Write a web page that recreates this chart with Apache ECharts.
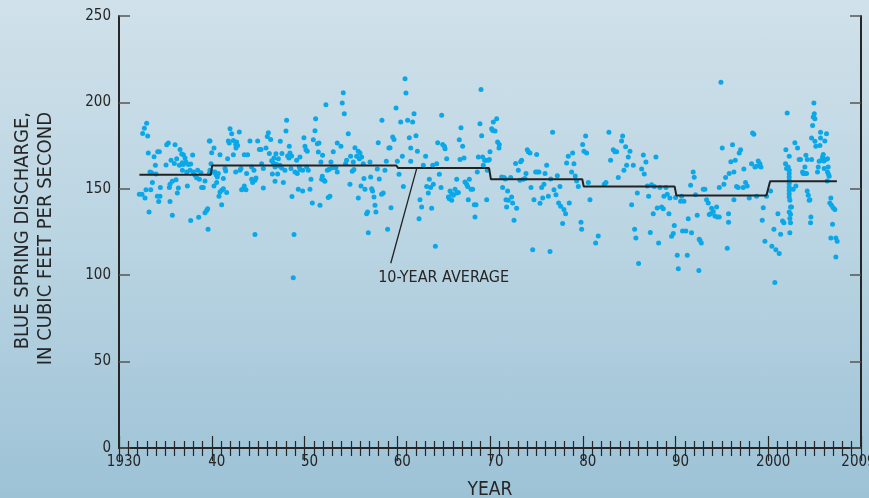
<!DOCTYPE html>
<html><head><meta charset="utf-8">
<script src="https://cdn.jsdelivr.net/npm/echarts@6/dist/echarts.min.js"></script>
<style>
html,body{margin:0;padding:0;width:869px;height:498px;overflow:hidden;background:linear-gradient(180deg,#d0e1ea 0%,#b9d4e2 50%,#9dc2d6 100%);}
#c{width:869px;height:498px;}
</style></head><body><div id="c"></div>
<script>
// ---- data (year, discharge ft3/s) ----
const d1930s=[[1932.98,188],[1932.73,185],[1932.55,182],[1933.09,180.5],[1933.16,170.7],[1933.78,168.6],[1933.92,163.6],[1934.17,171.5],[1934.35,171.5],[1933.34,159.7],[1933.52,159.3],[1933.99,158.6],[1933.6,153.6],[1932.91,149.5],[1933.42,149.5],[1932.19,146.8],[1932.48,146.8],[1932.8,144.7],[1934.13,145.7],[1934.42,145.7],[1934.28,142.6],[1934.46,150.7],[1933.24,136.6],[1935.14,175.5],[1935.32,176.5],[1936.04,175.5],[1935.07,163.8],[1935.61,166.5],[1935.97,164.7],[1936.22,167.4],[1936.58,172.8],[1936.76,170.1],[1936.94,169.7],[1937.12,167.8],[1936.83,165.1],[1936.51,163.6],[1936.94,164],[1937.22,165.5],[1937.48,164],[1937.73,164.3],[1937.94,169.6],[1936.83,160.7],[1937.3,159.7],[1937.66,160.7],[1938.02,159.7],[1938.2,157.8],[1938.37,156.4],[1938.48,160.7],[1938.84,159.3],[1938.66,155.5],[1938.91,150.7],[1939.09,150.7],[1939.27,154.5],[1939.74,158.8],[1939.74,177.6],[1935.5,152.6],[1935.43,150.7],[1935.75,154.3],[1936.15,155.3],[1936.4,150.5],[1936.29,147.6],[1935.5,142.6],[1935.75,134.7],[1937.73,131.6],[1938.59,133.5],[1939.27,136.2],[1939.45,137.4],[1939.56,138.5],[1939.6,126.6],[1937.37,151.6],[1939.81,177.6],[1939.99,170.9],[1939.92,164.5],[1939.81,160.7]];
const d1940s=[[1940.24,173.6],[1940.1,159.7],[1940.35,159.7],[1940.46,158.2],[1940.6,156.8],[1940.53,153.6],[1940.24,151.6],[1940.71,158.8],[1941.25,155.9],[1941.43,161.7],[1941.5,160.3],[1940.89,169.7],[1941.71,167.4],[1941.61,147.8],[1941.25,150.1],[1941.07,149.1],[1940.89,148.2],[1940.78,145.7],[1941.07,140.8],[1941.97,184.8],[1942.15,181.9],[1941.79,177.6],[1941.89,176.5],[1942.33,178],[1942.68,177.1],[1942.58,175.7],[1942.79,175.1],[1942.61,173.6],[1942.97,182.9],[1942.33,169.7],[1942.58,159.7],[1943.04,160.7],[1943.15,161.7],[1943.51,169.7],[1943.87,169.7],[1944.12,177.6],[1943.76,158.8],[1944.3,162.6],[1944.55,160.7],[1944.95,177.6],[1945.13,172.8],[1945.31,172.8],[1945.85,173.6],[1945.99,180.3],[1946.1,182.5],[1946.35,178.6],[1947.39,177.5],[1948.0,183.4],[1948.07,189.6],[1948.36,174.6],[1948.43,170.7],[1948.18,169],[1948.33,167.8],[1945.38,164.5],[1945.56,161.7],[1946.21,170.5],[1946.46,166.3],[1946.71,167.8],[1946.92,170.3],[1947.18,167.4],[1946.64,165.1],[1947.0,164],[1947.36,163.6],[1946.82,162.6],[1947.28,163.2],[1947.57,170.5],[1947.54,162],[1947.89,160.7],[1948.54,161.7],[1948.61,169],[1949.15,166.5],[1948.97,159.7],[1949.22,158.8],[1949.44,162.6],[1949.33,149.7],[1948.65,145.5],[1944.77,156.3],[1944.66,154.9],[1944.41,153.6],[1944.3,155.5],[1943.4,150.1],[1943.22,149.5],[1943.69,149.5],[1943.51,151.6],[1945.56,150.5],[1946.53,158.6],[1947.1,158.6],[1946.82,154.3],[1947.72,153.6],[1944.66,123.5],[1948.87,123.5],[1948.79,98.5],[1949.51,168.4],[1949.94,179.6],[1949.8,160.7],[1949.51,161.1],[1949.8,148.7]];
const d1950s=[[1950.05,174.6],[1950.16,172.6],[1950.3,171.7],[1950.23,162.6],[1950.41,160.7],[1950.7,155.5],[1950.59,149.7],[1950.84,141.8],[1950.95,178.4],[1951.13,183.6],[1951.2,190.6],[1951.38,176.1],[1951.56,176.5],[1951.49,171.3],[1951.95,169.4],[1951.77,165.5],[1951.92,157.2],[1952.1,154.9],[1952.2,154.3],[1951.85,155.5],[1951.67,140.5],[1952.56,144.9],[1952.74,145.7],[1952.31,198.7],[1952.46,160.7],[1952.85,165.5],[1952.67,161.3],[1953.0,162.2],[1953.21,162.6],[1953.39,162.2],[1953.1,171.5],[1953.53,159.7],[1953.53,176.5],[1953.93,174.6],[1954.43,164.5],[1954.54,166.5],[1954.97,168.8],[1954.72,181.9],[1954.29,193.5],[1954.07,199.6],[1954.18,205.6],[1954.9,152.6],[1955.15,160.1],[1955.33,161.1],[1955.26,165.5],[1955.44,173.8],[1955.62,168.8],[1955.8,171.7],[1955.98,170.7],[1956.16,168.4],[1955.91,167.4],[1956.34,164.5],[1957.06,165.5],[1956.41,155.9],[1956.09,151.6],[1955.8,144.7],[1956.52,149.7],[1957.24,150.1],[1957.34,148.7],[1957.49,145.3],[1957.13,156.8],[1958.06,155.7],[1957.85,161.5],[1957.95,176.7],[1958.35,189.6],[1959.1,173.6],[1958.82,165.9],[1958.67,160.7],[1958.31,146.8],[1958.49,147.6],[1957.6,140.5],[1957.7,136.6],[1956.8,136.6],[1956.7,135.6],[1956.88,124.5],[1958.96,126.6],[1959.33,139.1],[1959.51,180],[1959.65,178.6],[1959.22,173.8],[1959.87,196.7]];
const d1960s=[[1960.01,165.9],[1960.19,158.4],[1960.37,188.6],[1960.55,168.8],[1960.66,151.4],[1960.84,213.7],[1960.94,205.4],[1961.12,189.6],[1961.3,179.6],[1961.45,173.6],[1961.66,188.6],[1961.81,193.5],[1962.02,180.7],[1962.17,171.7],[1961.45,165.9],[1962.45,143.7],[1962.63,139.5],[1962.35,132.6],[1962.81,163.6],[1963.06,168.8],[1963.46,155.5],[1963.17,151.4],[1963.35,147.6],[1963.6,150.7],[1963.71,138.7],[1963.89,152.6],[1963.82,163.6],[1964.25,164.5],[1964.54,158.4],[1964.36,176.7],[1964.79,192.5],[1964.9,175.7],[1965.08,174.6],[1965.15,173.2],[1965.33,167.4],[1964.72,150.7],[1964.11,116.8],[1965.51,145.3],[1965.69,148.7],[1965.87,147.2],[1966.05,146.2],[1966.23,149.7],[1966.41,147.6],[1966.59,147.8],[1965.62,144.3],[1965.87,143.4],[1966.41,155.5],[1966.69,178.4],[1966.87,185.4],[1967.05,174.6],[1966.77,166.9],[1967.2,167.8],[1967.3,154],[1967.48,152.6],[1967.59,151.4],[1967.77,155.5],[1967.95,149.7],[1968.13,149.7],[1967.66,143.7],[1968.31,140.8],[1968.49,140.7],[1968.38,133.7],[1968.63,159.7],[1968.74,168.4],[1969.03,207.5],[1969.1,180.7],[1968.92,187.7],[1969.21,168.4],[1969.28,163.6],[1969.42,166.5],[1969.57,166.5],[1969.82,166.5],[1969.71,160.7],[1969.64,143.7],[1969.93,166.9]];
const d1970s=[[1970.0,171.5],[1970.18,184.8],[1970.29,183.8],[1970.54,183.4],[1970.36,188.6],[1970.72,190.6],[1970.82,177.1],[1971.0,175.7],[1970.97,173.6],[1971.26,156.8],[1971.51,156.5],[1971.65,155.7],[1971.36,150.7],[1971.72,143.7],[1971.97,143.4],[1972.23,156.5],[1971.79,139.5],[1972.33,145.3],[1972.44,141.8],[1972.87,138.7],[1972.59,131.8],[1971.9,148.7],[1972.76,164.7],[1973.05,160.7],[1973.3,165.7],[1973.41,166.5],[1973.23,154.9],[1973.59,155.5],[1973.77,155.9],[1973.88,158.8],[1974.02,172.6],[1974.13,171.5],[1974.31,170.7],[1975.03,169.8],[1974.42,150.7],[1974.74,143.7],[1974.92,159.7],[1975.1,159.7],[1975.28,159.7],[1975.39,141.6],[1975.68,144.7],[1975.82,152.6],[1975.57,150.7],[1975.93,158.8],[1976.11,163.6],[1976.29,145.7],[1976.54,155.7],[1976.75,182.7],[1976.9,149.5],[1977.11,146.6],[1977.26,157.6],[1977.54,151.4],[1977.4,141.8],[1977.62,139.9],[1977.83,129.9],[1977.97,138],[1978.15,135.6],[1978.26,164.9],[1978.44,168.8],[1978.55,141.8],[1974.6,114.8],[1976.47,113.7],[1978.91,170.7],[1979.05,164.5],[1978.8,159.7],[1979.19,157.4],[1979.34,154.5],[1979.52,151.4],[1979.99,175.7],[1979.88,126.6],[1979.81,130.6]];
const d1980s=[[1980.13,171.7],[1980.42,170.7],[1980.31,180.5],[1980.6,153.6],[1980.78,143.7],[1981.39,118.7],[1981.67,122.7],[1982.32,152.6],[1982.5,153.6],[1982.82,182.7],[1983.0,166.5],[1983.29,172.6],[1983.47,171.5],[1983.65,171.5],[1983.83,156.5],[1984.19,177.7],[1984.3,180.5],[1984.44,160.7],[1984.62,174.4],[1984.73,163.6],[1984.91,168.4],[1985.09,171.7],[1985.27,140.7],[1985.45,163.6],[1985.59,126.6],[1985.73,121.6],[1985.88,147.6],[1986.02,106.7],[1986.35,161.5],[1986.53,169.6],[1986.63,158.6],[1986.81,165.5],[1986.96,151.6],[1987.1,145.7],[1987.28,124.7],[1987.42,152.4],[1987.6,135.6],[1987.71,151.4],[1987.89,168.4],[1988.03,138.9],[1988.18,118.7],[1988.32,150.7],[1988.5,139.5],[1988.68,138.5],[1988.75,145.7],[1988.97,150.7],[1989.11,146.8],[1989.29,135.6],[1989.4,144.7],[1989.58,122.5],[1989.76,124.1],[1989.87,128.7]];
const d1990s=[[1990.01,144.9],[1990.19,111.6],[1990.3,103.7],[1990.55,142.8],[1990.66,145.7],[1990.91,142.8],[1990.76,125.6],[1991.12,125.6],[1991.27,111.6],[1991.37,132.6],[1991.63,152],[1991.73,124.5],[1991.91,159.7],[1992.02,156.7],[1992.16,146.6],[1992.34,134.7],[1992.52,102.7],[1992.63,120.2],[1992.78,118.7],[1992.56,120.8],[1992.99,149.7],[1993.17,149.7],[1993.35,143.7],[1993.53,141.8],[1993.64,135.1],[1993.78,135.6],[1993.89,138.7],[1994.07,136.8],[1994.25,134.3],[1994.43,139.5],[1994.5,133.7],[1994.72,133.7],[1994.72,150.7],[1994.9,211.6],[1995.04,173.6],[1995.22,152.6],[1995.4,156.5],[1995.58,115.6],[1995.72,130.6],[1995.72,135.6],[1995.79,158.8],[1995.97,165.7],[1996.15,175.5],[1996.3,143.7],[1996.3,159.7],[1996.44,166.5],[1996.58,151.4],[1996.76,150.7],[1996.87,170.7],[1997.02,172.6],[1997.3,150.7],[1997.37,161.5],[1997.55,153.6],[1997.73,151.6],[1997.95,144.7],[1998.2,164.5],[1998.31,182.3],[1998.45,181.5],[1998.56,162.6],[1998.74,163],[1998.92,166.1],[1999.1,164.5],[1999.21,162.6],[1998.74,145.7],[1999.46,139.1],[1999.35,131.8],[1999.64,119.7],[1999.82,145.7]];
const d2000s=[[2000.25,148.7],[2000.39,116.8],[2000.61,126.6],[2000.71,95.8],[2000.82,114.8],[2001.18,112.5],[2001.04,135.6],[2001.33,123.7],[2001.54,131.4],[2001.69,130.4],[2001.9,172.6],[2001.86,164.5],[2001.97,161.7],[2002.04,193.8],[2002.26,168.8],[2002.15,162.6],[2002.26,160.7],[2002.26,158.8],[2002.26,156.8],[2002.26,154.9],[2002.26,153],[2002.26,151.1],[2002.26,149.1],[2002.26,147.2],[2002.26,145.3],[2002.33,143.4],[2002.4,139.5],[2002.26,136.6],[2002.4,135.3],[2002.33,132.8],[2002.4,130.4],[2002.33,124.5],[2002.51,139.5],[2002.69,149.7],[2002.98,151.6],[2002.87,176.7],[2003.16,173.6],[2003.34,166.9],[2003.48,166.9],[2003.7,159.7],[2003.77,158.8],[2003.95,158.8],[2004.06,169.4],[2003.95,162.6],[2004.2,166.9],[2004.13,158.8],[2004.2,148.7],[2004.31,146.2],[2004.42,143.4],[2004.49,143.7],[2004.6,133.7],[2004.56,130.4],[2004.67,166.9],[2004.67,179.4],[2004.78,186.7],[2004.85,191.5],[2004.96,193.5],[2005.03,190.6],[2004.92,199.6],[2005.13,174.6],[2005.03,177.5],[2005.31,159.7],[2005.39,162.6],[2005.49,165.9],[2005.57,175.1],[2005.64,179.4],[2005.64,182.7],[2005.75,166.5],[2005.85,168.4],[2006.0,166.1],[2005.93,169.8],[2006.03,161.7],[2006.1,177.7],[2006.21,166.9],[2006.28,181.9],[2006.39,167.4],[2006.46,162.6],[2006.39,159.7],[2006.5,158.4],[2006.57,157.2],[2006.36,154.5],[2006.75,144.7],[2006.64,141.8],[2006.82,140.5],[2007.0,139.1],[2007.18,138],[2006.93,129.5],[2006.75,121.6],[2007.29,121.6],[2007.43,119.7],[2007.29,110.6]];

// 10-year average step line
const avgYears=[1932.2,1939.9,1940.05,1959.9,1960.1,1969.9,1970.1,1979.95,1980.1,1989.9,1990.1,1999.8,2000.2,2007.4];
const avgValues=[158.2,158.2,163.5,163.5,162,162,155.5,155.5,151.4,151.4,146.1,146.1,154.3,154.3];

// annotation
const annoText='10-YEAR AVERAGE';
const annoPos=[1965.0,98.3];
const leaderFrom=[1959.3,106.9], leaderTo=[1962.1,161.8];

const xTickLabels={1930:'1930',1940:'40',1950:'50',1960:'60',1970:'70',1980:'80',1990:'90',2000:'2000',2010:'{e|2009}'};
const yTicks={min:0,max:250,interval:50};

const allPts=[].concat(d1930s,d1940s,d1950s,d1960s,d1970s,d1980s,d1990s,d2000s);
const avgData=avgYears.map((y,i)=>[y,avgValues[i]]);

const FONT='"DejaVu Sans Condensed","Liberation Sans Narrow",sans-serif';
const INK='#262626';
const chart=echarts.init(document.getElementById('c'),null,{renderer:'canvas'});
const axisLine={show:true,lineStyle:{color:INK,width:2}};
chart.setOption({
  backgroundColor:'transparent',
  animation:false,
  grid:{left:119,right:8,top:16,bottom:50,containLabel:false,outerBoundsMode:'none'},
  xAxis:[{
    type:'value',min:1930,max:2010,interval:10,position:'bottom',
    axisLine:axisLine,splitLine:{show:false},
    axisTick:{show:true,inside:true,length:12,lineStyle:{color:INK,width:1.2}},
    minorTick:{show:true,splitNumber:10,length:7,lineStyle:{color:INK,width:1.2}},
    axisLabel:{margin:7,fontFamily:FONT,fontSize:15,color:INK,padding:[0,0,0,10],hideOverlap:false,
      formatter:v=>xTickLabels[v]||'',
      rich:{e:{fontFamily:FONT,fontSize:15,color:INK,padding:[0,15,0,0]}}}
  },{
    type:'value',min:1930,max:2010,interval:10,position:'top',
    axisLine:axisLine,splitLine:{show:false},
    axisTick:{show:true,inside:true,length:13,lineStyle:{color:INK,width:1.2}},
    minorTick:{show:true,splitNumber:10,length:8,lineStyle:{color:INK,width:1.2}},
    axisLabel:{show:false}
  }],
  yAxis:[{
    type:'value',min:yTicks.min,max:yTicks.max,interval:yTicks.interval,position:'left',
    axisLine:axisLine,splitLine:{show:false},
    axisTick:{show:true,inside:true,length:11,lineStyle:{color:'#555',width:1.5}},
    axisLabel:{margin:8,fontFamily:FONT,fontSize:15,color:INK}
  },{
    type:'value',min:yTicks.min,max:yTicks.max,interval:yTicks.interval,position:'right',
    axisLine:axisLine,splitLine:{show:false},
    axisTick:{show:true,inside:true,length:11,lineStyle:{color:'#555',width:1.5}},
    axisLabel:{show:false}
  }],
  series:[
    {type:'scatter',data:allPts,symbol:'circle',symbolSize:5,itemStyle:{color:'#0aa8e8',opacity:1},silent:true,z:2},
    {type:'line',data:avgData,symbol:'none',lineStyle:{color:'#222',width:2},silent:true,z:3},
    {type:'line',data:[leaderFrom,leaderTo],symbol:'none',lineStyle:{color:'#222',width:1.3},silent:true,z:3}
  ]
});
const ap=chart.convertToPixel({xAxisIndex:0,yAxisIndex:0},annoPos);
chart.setOption({graphic:[
  {type:'text',x:ap[0],y:ap[1],style:{text:annoText,font:'16px '+FONT,fill:INK,textAlign:'center',textVerticalAlign:'middle'}},
  {type:'text',x:490,y:490,style:{text:'YEAR',font:'19px '+FONT,fill:INK,textAlign:'center',textVerticalAlign:'middle'}},
  {type:'text',x:23,y:112,rotation:Math.PI/2,style:{text:'BLUE SPRING DISCHARGE,',font:'20px '+FONT,fill:INK,textAlign:'right',textVerticalAlign:'middle'}},
  {type:'text',x:46,y:112,rotation:Math.PI/2,style:{text:'IN CUBIC FEET PER SECOND',font:'20px '+FONT,fill:INK,textAlign:'right',textVerticalAlign:'middle'}}
]});
</script></body></html>
